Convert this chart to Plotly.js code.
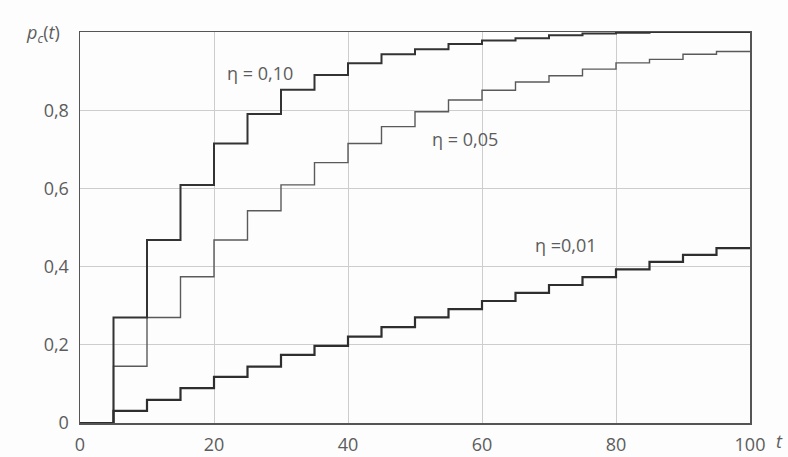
<!DOCTYPE html>
<html>
<head>
<meta charset="utf-8">
<script src="https://cdn.plot.ly/plotly-3.0.1.min.js"></script>
<style>html,body{margin:0;padding:0;background:#fdfdfd;}#chart{width:788px;height:457px;}</style>
</head>
<body>
<div id="chart"></div>
<script>
// step times
const tSteps = [0, 5, 10, 15, 20, 25, 30, 35, 40, 45, 50, 55, 60, 65, 70, 75, 80, 85, 90, 95, 100];
// p_c(t) values (value held from each time until the next)
const eta010 = [0, 0.27, 0.468, 0.609, 0.715, 0.79, 0.852, 0.89, 0.92, 0.943, 0.956, 0.969, 0.978, 0.984, 0.992, 0.996, 0.998, 1, 1, 1, 1];
const eta005 = [0, 0.145, 0.27, 0.374, 0.468, 0.543, 0.609, 0.666, 0.715, 0.758, 0.796, 0.826, 0.851, 0.872, 0.888, 0.905, 0.921, 0.930, 0.943, 0.950, 0.952];
const eta001 = [0, 0.031, 0.059, 0.089, 0.118, 0.144, 0.174, 0.197, 0.221, 0.245, 0.27, 0.291, 0.312, 0.333, 0.353, 0.373, 0.393, 0.412, 0.43, 0.447, 0.447];
const seriesNames = ['η = 0,10', 'η = 0,05', 'η =0,01'];
const xTicks = [0, 20, 40, 60, 80, 100];
const xTickText = ['0', '20', '40', '60', '80', '100'];
const yTicks = [0, 0.2, 0.4, 0.6, 0.8];
const yTickText = ['0', '0,2', '0,4', '0,6', '0,8'];

const FONT = '"Open Sans", "Noto Sans", sans-serif';
const TXT = '#5c5c5c';

const traces = [
  {x: tSteps, y: eta005, mode: 'lines', line: {shape: 'hv', color: '#5a5a5a', width: 1.4}, name: seriesNames[1]},
  {x: tSteps, y: eta010, mode: 'lines', line: {shape: 'hv', color: '#333', width: 2}, name: seriesNames[0]},
  {x: tSteps, y: eta001, mode: 'lines', line: {shape: 'hv', color: '#2e2e2e', width: 2.2}, name: seriesNames[2]}
];

const plotW = 788 - 80 - 38, plotH = 457 - 32 - 34;

const layout = {
  width: 788, height: 457,
  margin: {l: 80, r: 38, t: 32, b: 34},
  paper_bgcolor: '#fdfdfd', plot_bgcolor: '#fdfdfd',
  showlegend: false,
  font: {family: FONT, color: TXT, size: 18},
  xaxis: {
    range: [0, 100], tickvals: xTicks, ticktext: xTickText,
    showgrid: true, gridcolor: '#cdcdcd', gridwidth: 1,
    zeroline: false, showline: true, mirror: true, linecolor: '#555', linewidth: 1.5,
    ticks: '', ticklabelstandoff: 5, tickfont: {size: 18, color: TXT, family: FONT}
  },
  yaxis: {
    range: [0, 1], tickvals: yTicks, ticktext: yTickText,
    showgrid: true, gridcolor: '#cdcdcd', gridwidth: 1,
    zeroline: false, showline: true, mirror: true, linecolor: '#555', linewidth: 1.5,
    ticks: '', ticklabelstandoff: 6, tickfont: {size: 18, color: TXT, family: FONT}
  },
  annotations: [
    {x: 26.9, y: 0.895, xref: 'x', yref: 'y', text: seriesNames[0], showarrow: false, xanchor: 'center', yanchor: 'middle', font: {size: 18, color: TXT, family: FONT}},
    {x: 57.5, y: 0.727, xref: 'x', yref: 'y', text: seriesNames[1], showarrow: false, xanchor: 'center', yanchor: 'middle', font: {size: 18, color: TXT, family: FONT}},
    {x: 72.5, y: 0.455, xref: 'x', yref: 'y', text: seriesNames[2], showarrow: false, xanchor: 'center', yanchor: 'middle', font: {size: 18, color: TXT, family: FONT}},
    {x: (43 - 80) / plotW, y: (423 - 33) / plotH, xref: 'paper', yref: 'paper', text: '<i>p</i><sub><i>c</i></sub>(<i>t</i>)', showarrow: false, xanchor: 'center', yanchor: 'middle', font: {size: 18, color: TXT, family: FONT}},
    {x: (779 - 80) / plotW, y: (423 - 441) / plotH, xref: 'paper', yref: 'paper', text: '<i>t</i>', showarrow: false, xanchor: 'center', yanchor: 'middle', font: {size: 18, color: TXT, family: FONT}}
  ]
};

Plotly.newPlot('chart', traces, layout, {displayModeBar: false, staticPlot: true});
</script>
</body>
</html>
